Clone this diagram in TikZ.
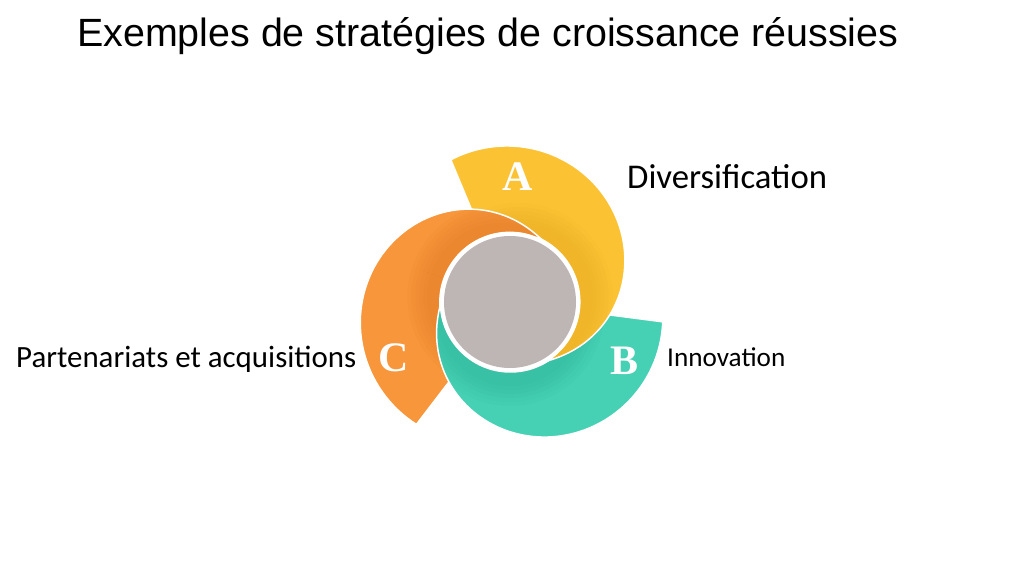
\documentclass[tikz,border=0pt]{standalone}
\usepackage{fontspec}
\setmainfont{Liberation Sans}
\newfontfamily\calib{Carlito}
\newfontfamily\letterfont{Liberation Serif}
\definecolor{yel}{RGB}{251,195,52}
\definecolor{yeld}{RGB}{228,163,28}
\definecolor{org}{RGB}{247,150,58}
\definecolor{orgd}{RGB}{222,115,30}
\definecolor{tea}{RGB}{70,209,181}
\definecolor{tead}{RGB}{40,170,145}
\definecolor{gry}{RGB}{190,182,180}
\def\bladepath{(112.6:70) -- plot[domain=112.6:-58,samples=80,variable=\t] (\t:{110.4+45.8*cos(\t-95)}) arc[start angle=-58,end angle=112.6,radius=70] -- cycle}
\newcommand\drawblade[3]{%
  \begin{scope}[shift={(O)},rotate=#1]
    \fill[#2] \bladepath;
    \begin{scope}
      \clip \bladepath;
      \foreach \rr in {94,90,86,82,78,74} \fill[#3,opacity=.07] (30:10) circle[radius=\rr];
    \end{scope}
    \draw[white,line width=1.5,line join=round] \bladepath;
  \end{scope}}
\tikzset{
  letter/.style={text=white,inner sep=0pt,font=\letterfont\bfseries\fontsize{42}{44}\selectfont},
  label/.style={inner sep=0pt,anchor=base west,text=black},
}
\begin{document}
\begin{tikzpicture}[x=1pt,y=1pt]
\useasboundingbox (0,0) rectangle (1024,576);
\coordinate (O) at (510,274);
\drawblade{120}{org}{orgd}
\drawblade{-120}{tea}{tead}
\drawblade{0}{yel}{yeld}
\begin{scope}
  \clip (O) -- +(20:260) -- +(90:300) -- +(160:260) -- cycle;
  \drawblade{120}{org}{orgd}
\end{scope}
\fill[white] (O) circle[radius=70];
\fill[gry] (O) circle[radius=66];
\node[letter] (la) at (518,399) {A};
\node[letter] (lb) at (624,215) {B};
\node[letter] (lc) at (394,218) {C};
\node[label,font=\calib\fontsize{34.7}{40}\selectfont] (div) at (627,387) {Diversification};
\node[label,font=\calib\fontsize{27.2}{31}\selectfont] (inn) at (667,210) {Innovation};
\node[label,font=\calib\fontsize{30.9}{35}\selectfont] (par) at (16,209) {Partenariats et acquisitions};
\node[label,font=\fontsize{39.4}{44}\selectfont] (title) at (77,529) {Exemples de stratégies de croissance réussies};
\end{tikzpicture}
\end{document}
